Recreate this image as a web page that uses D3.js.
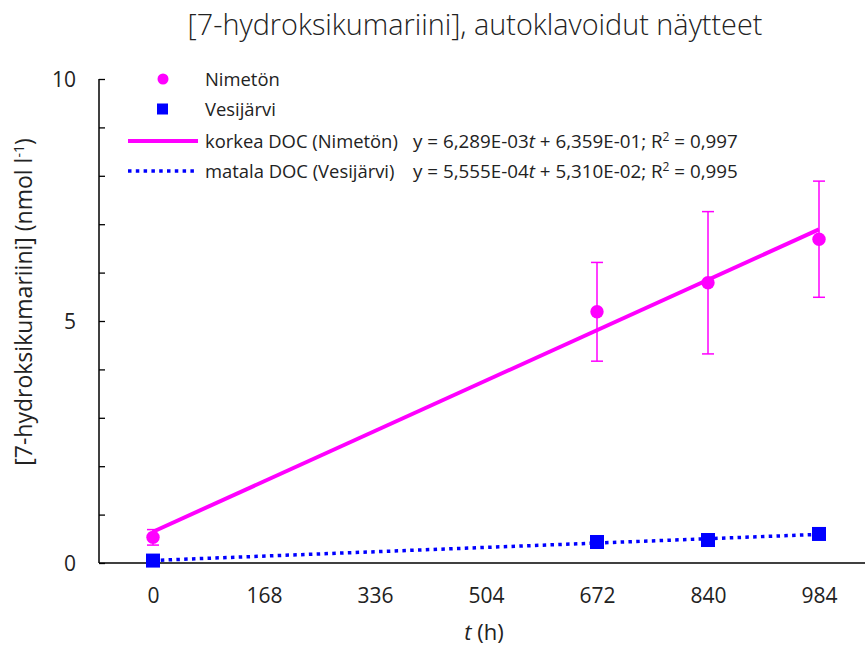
<!DOCTYPE html>
<html><head><meta charset="utf-8">
<script src="https://cdn.jsdelivr.net/npm/d3@7"></script>
<style>
body{margin:0;background:#fff;}
text{font-family:"Open Sans","Noto Sans",sans-serif;fill:#222;}
</style></head>
<body><svg id="c" width="865" height="646"></svg>
<script>
// ---- data ----
const categories = ["0","168","336","504","672","840","984"];
const nimetonCat = ["0","672","840","984"];
const nimetonVal = [0.53, 5.19, 5.79, 6.69];
const nimetonErr = [0.16, 1.02, 1.47, 1.20];
const vesiCat = ["0","672","840","984"];
const vesiVal = [0.05, 0.434, 0.475, 0.60];
const yTicks = [0,1,2,3,4,5,6,7,8,9,10];
const yLabels = [0,5,10];
const legendNames = ["Nimetön","Vesijärvi","korkea DOC (Nimetön)","matala DOC (Vesijärvi)"];
const equations = ["y = 6,289E-03","y = 5,555E-04"];
const eqRest = [" + 6,359E-01; R"," + 5,310E-02; R"];
const r2 = [" = 0,997"," = 0,995"];

const PINK="#ff00ff", BLUE="#0000ff";
const svg=d3.select("#c");
const x=d3.scalePoint().domain(categories).range([153,819]);
const y=d3.scaleLinear().domain([0,10]).range([563,79]);
const idx=c=>categories.indexOf(c);

function fit(cats,vals){
  const xs=cats.map(idx);
  const mx=d3.mean(xs), my=d3.mean(vals);
  let sxy=0,sxx=0;
  xs.forEach((v,i)=>{sxy+=(v-mx)*(vals[i]-my);sxx+=(v-mx)*(v-mx);});
  const b=sxy/sxx, a=my-b*mx;
  return i=>a+b*i;
}

// title
svg.append("text").attr("x",475).attr("y",35).attr("text-anchor","middle")
  .style("font-size","28.8px").style("font-weight",300)
  .text("[7-hydroksikumariini], autoklavoidut näytteet");

// axes
const yAxis=svg.append("g").attr("transform","translate(99,0)")
  .call(d3.axisRight(y).tickValues(yTicks).tickSize(6).tickFormat(""));
yAxis.select(".domain").attr("d","M0,"+y(10)+"V"+y(0)).attr("stroke","#000").attr("stroke-width",1.5);
yAxis.selectAll(".tick line").attr("stroke","#000").attr("stroke-width",1.3);
svg.selectAll(".ylab").data(yLabels).join("text").attr("class","ylab")
  .attr("x",76).attr("y",d=>y(d)+7.5).attr("text-anchor","end")
  .style("font-size","21px").text(d=>d);

const xAxis=svg.append("g").attr("transform","translate(0,563)")
  .call(d3.axisBottom(x).tickSize(0).tickPadding(0));
xAxis.select(".domain").attr("d","M99,0H865").attr("stroke","#000").attr("stroke-width",1.5);
xAxis.selectAll(".tick text").attr("dy",null).attr("y",40).style("font-size","21px")
  .style("font-family","'Open Sans','Noto Sans',sans-serif").attr("fill","#222");

// axis titles
const xt=svg.append("text").attr("x",484).attr("y",640).attr("text-anchor","middle").style("font-size","22px");
xt.append("tspan").style("font-style","italic").text("t");
xt.append("tspan").text(" (h)");
const yt=svg.append("text").attr("transform","translate(32,302) rotate(-90)").attr("text-anchor","middle").style("font-size","23px");
yt.append("tspan").text("[7-hydroksikumariini] (nmol l");
yt.append("tspan").attr("dy",-8).style("font-size","14px").text("-1");
yt.append("tspan").attr("dy",8).text(")");

// trend lines
const fp=fit(nimetonCat,nimetonVal), fb=fit(vesiCat,vesiVal);
const ends=[categories[0],categories[categories.length-1]];
const line=f=>d3.line().x(c=>x(c)).y(c=>y(f(idx(c))));
svg.append("path").attr("d",line(fp)(ends)).attr("stroke",PINK).attr("stroke-width",4).attr("fill","none");
svg.append("path").attr("d",line(fb)(ends)).attr("stroke",BLUE).attr("stroke-width",3.5).attr("stroke-dasharray","3.5,4.3").attr("fill","none");

// error bars
const eb=svg.append("g").attr("stroke",PINK).attr("stroke-width",1.5);
nimetonCat.forEach((c,i)=>{
  const cx=x(c), t=y(nimetonVal[i]+nimetonErr[i]), b=y(nimetonVal[i]-nimetonErr[i]);
  eb.append("line").attr("x1",cx).attr("x2",cx).attr("y1",t).attr("y2",b);
  eb.append("line").attr("x1",cx-6).attr("x2",cx+6).attr("y1",t).attr("y2",t);
  eb.append("line").attr("x1",cx-6).attr("x2",cx+6).attr("y1",b).attr("y2",b);
});
// markers
svg.selectAll(".pc").data(nimetonCat).join("circle").attr("class","pc")
  .attr("cx",d=>x(d)).attr("cy",(d,i)=>y(nimetonVal[i])).attr("r",6.7).attr("fill",PINK);
svg.selectAll(".bs").data(vesiCat).join("rect").attr("class","bs")
  .attr("x",d=>x(d)-7).attr("y",(d,i)=>y(vesiVal[i])-7).attr("width",14).attr("height",14).attr("fill",BLUE);

// legend
const lg=svg.append("g");
const rows=[79,109,141,171];
lg.append("circle").attr("cx",163).attr("cy",rows[0]).attr("r",5.5).attr("fill",PINK);
lg.append("rect").attr("x",157).attr("y",rows[1]-5.5).attr("width",11).attr("height",11).attr("fill",BLUE);
lg.append("line").attr("x1",128).attr("x2",198).attr("y1",rows[2]).attr("y2",rows[2]).attr("stroke",PINK).attr("stroke-width",4);
lg.append("line").attr("x1",128).attr("x2",198).attr("y1",rows[3]).attr("y2",rows[3]).attr("stroke",BLUE).attr("stroke-width",3.5).attr("stroke-dasharray","3.5,4.3");
legendNames.forEach((n,i)=>{
  lg.append("text").attr("x",205).attr("y",rows[i]+6.5).style("font-size","18.4px").text(n);
});
equations.forEach((e,i)=>{
  const t=lg.append("text").attr("x",413).attr("y",rows[i+2]+6.5).style("font-size","18.8px");
  t.append("tspan").text(e);
  t.append("tspan").style("font-style","italic").text("t");
  t.append("tspan").text(eqRest[i]);
  t.append("tspan").attr("dy",-7).style("font-size","12px").text("2");
  t.append("tspan").attr("dy",7).text(r2[i]);
});
</script></body></html>
